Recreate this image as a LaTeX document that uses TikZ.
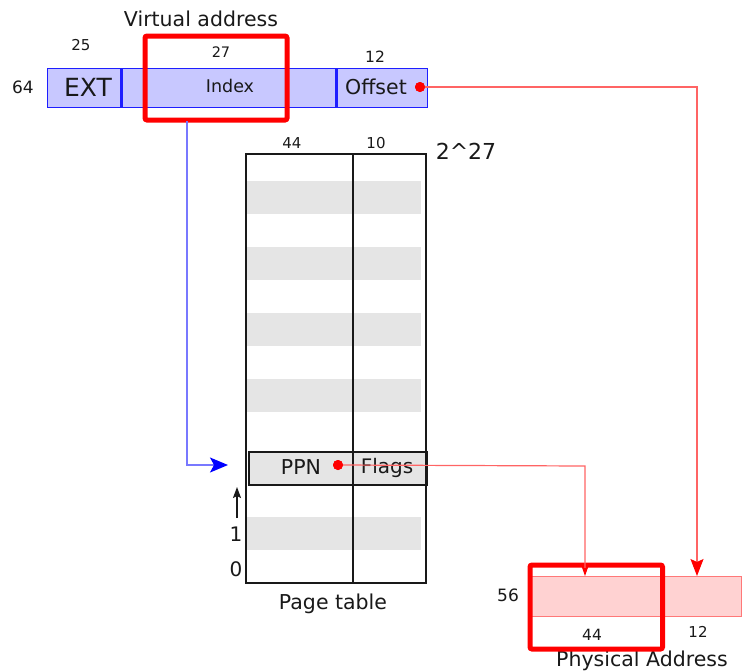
\documentclass[tikz,border=0pt]{standalone}
\usepackage{fontspec}
\setmainfont{DejaVu Sans}
\usetikzlibrary{arrows.meta}

\newcommand\fsz[1]{\fontsize{#1}{#1}\selectfont}

\definecolor{vafill}{RGB}{200,200,255}
\definecolor{vaedge}{RGB}{30,30,255}
\definecolor{bluewire}{RGB}{120,120,255}
\definecolor{redwire}{RGB}{255,100,100}
\definecolor{pafill}{RGB}{255,210,210}
\definecolor{paedge}{RGB}{255,120,120}
\definecolor{stripe}{RGB}{229,229,229}
\definecolor{ink}{RGB}{25,25,25}

\tikzset{
  lbl/.style={inner sep=0pt, text=ink},
  vaseg/.style={draw=vaedge, fill=vafill, line width=1.2pt, anchor=north west, inner sep=0pt},
  paseg/.style={draw=paedge, fill=pafill, line width=1.2pt, anchor=north west, inner sep=0pt},
  hlbox/.style={draw=red, line width=5pt, rounded corners=2pt, anchor=north west, inner sep=0pt},
  stripebar/.style={fill=stripe, draw=none, anchor=north west, inner sep=0pt, minimum width=174, minimum height=33},
  entry/.style={fill=stripe, draw=ink, line width=1.5pt, anchor=north west, inner sep=0pt, minimum width=178, minimum height=33},
  dot/.style={circle, fill=red, inner sep=0pt, minimum size=10},
  bluearrow/.style={draw=bluewire, line width=1.5pt, -{Stealth[length=18pt, width=15pt, inset=4pt, color=blue]}},
  redarrow/.style={draw=redwire, line width=1.2pt, -{Stealth[length=17pt, width=13pt, inset=3pt, color=red]}},
  redarrowsmall/.style={draw=redwire, line width=1.2pt, -{Stealth[length=10pt, width=7pt, inset=2pt, color=red]}},
}

\begin{document}
\begin{tikzpicture}[x=1pt, y=-1pt]
\useasboundingbox (0,0) rectangle (742,672);

% ---- virtual address ----
\node[lbl, font=\fsz{20.5}] (vatitle) at (201,19) {Virtual address};
\node[vaseg, minimum width=74, minimum height=39] (ext) at (47,68) {};
\node[vaseg, minimum width=214, minimum height=39] (index) at (121,68) {};
\node[vaseg, minimum width=92, minimum height=39] (offset) at (335,68) {};
\draw[vaedge, line width=3pt] (index.north west) -- (index.south west);
\draw[vaedge, line width=3pt] (index.north east) -- (index.south east);

\node[lbl, font=\fsz{25}] (exttext) at (88,87) {EXT};
\node[lbl, font=\fsz{17.5}] (indextext) at (230,86) {Index};
\node[lbl, font=\fsz{20.5}] (offtext) at (376,87) {Offset};
\node[dot] (offdot) at (420,87) {};

\node[lbl, font=\fsz{17}] (vabits) at (23,87) {64};
\node[lbl, font=\fsz{15}] (extbits) at (81,45) {25};
\node[lbl, font=\fsz{14.5}] (idxbits) at (221,52) {27};
\node[lbl, font=\fsz{15.5}] (offbits) at (375,57) {12};

\node[hlbox, minimum width=142, minimum height=84] (idxmark) at (142.5,33.5) {};

% ---- page table ----
\foreach \y in {181,247,313,379,517}
  \node[stripebar] at (247,\y) {};
\node[entry] (pte) at (248,451) {};
\node[draw=ink, line width=2pt, anchor=north west, inner sep=0pt,
      minimum width=180, minimum height=429] (ptable) at (245,153) {};
\draw[ink, line width=2pt] (353,153) -- (353,582);

\node[lbl, font=\fsz{15}] (ppnbits) at (292,143) {44};
\node[lbl, font=\fsz{15}] (flagbits) at (376,143) {10};
\node[lbl, font=\fsz{22}] (ptsize) at (466,151) {2\^{}27};
\node[lbl, font=\fsz{20.5}] (ppntext) at (301,467) {PPN};
\node[lbl, font=\fsz{20}] (flagtext) at (387,468) {Flags};
\node[dot] (ppndot) at (338,465) {};
\node[lbl, font=\fsz{20}] (rowone) at (236,534) {1};
\node[lbl, font=\fsz{20}] (rowzero) at (236,569) {0};
\node[lbl, font=\fsz{20.5}] (pttitle) at (333,604) {Page table};

\coordinate (upfrom) at (237,518);
\coordinate (upto) at (237,487);
\draw[ink, line width=1.4pt, -{Stealth[length=11pt, width=8pt, inset=2pt]}] (upfrom) -- (upto);

% ---- physical address ----
\node[paseg, minimum width=213, minimum height=40] (pa) at (528,576) {};
\node[lbl, font=\fsz{17}] (pabits) at (508,595) {56};
\node[lbl, font=\fsz{15.5}] (pnbits) at (592,635) {44};
\node[lbl, font=\fsz{15}] (pobits) at (698,632) {12};
\node[lbl, font=\fsz{20.5}] (patitle) at (642,661) {Physical Address};
\node[hlbox, minimum width=132.5, minimum height=84] (pnmark) at (527.5,562.5) {};

% ---- connectors ----
\coordinate (idxtap) at (187,121);
\coordinate (ptein) at (228,465);
\draw[bluearrow] (idxtap) |- (ptein);

\coordinate (offturn) at (697,87);
\draw[redarrow] (offdot.center) -- (offturn) -- (offturn |- pa.north);

\coordinate (ppnturn) at (585,466);
\draw[redarrowsmall] (ppndot.center) -- (ppnturn) -- (ppnturn |- pa.north);
\node[dot] at (ppndot) {};
\node[dot] at (offdot) {};
\end{tikzpicture}
\end{document}
